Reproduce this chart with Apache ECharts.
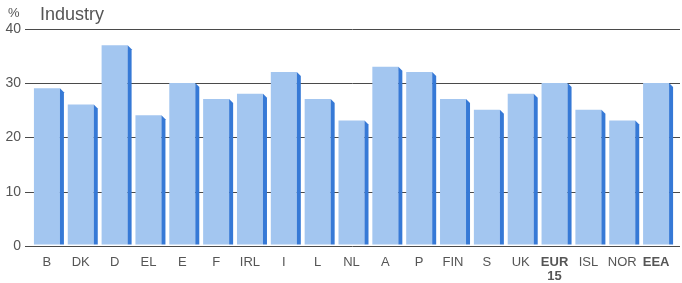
<!DOCTYPE html>
<html>
<head>
    <meta charset="utf-8">
    <title>Industry</title>
    <script src="https://cdn.jsdelivr.net/npm/echarts@6/dist/echarts.min.js"></script>
</head>
<body style="margin:0;background:#fff;">
<div id="main" style="width: 682px;height:283px;"></div>
<script type="text/javascript">
    // data
    var countries = ['B', 'DK', 'D', 'EL', 'E', 'F', 'IRL', 'I', 'L', 'NL', 'A', 'P', 'FIN', 'S', 'UK', 'EUR15', 'ISL', 'NOR', 'EEA'];
    var industry = [29, 26, 37, 24, 30, 27, 28, 32, 27, 23, 33, 32, 27, 25, 28, 30, 25, 23, 30];
    var yTicks = [0, 10, 20, 30, 40];
    var boldOnes = ['EUR15', 'EEA'];

    var myChart = echarts.init(document.getElementById('main'));

    // bar face + dark side strip, like the printed 3d bars
    function renderBar(params, api) {
        var top = api.coord([api.value(0), api.value(1)]);
        var base = api.coord([api.value(0), 0]);
        var faceW = 26, sideW = 4, slant = 4;
        var x0 = top[0] - 13;
        var x1 = x0 + faceW;
        return {
            type: 'group',
            children: [
                {
                    type: 'rect',
                    shape: { x: x0, y: top[1], width: faceW, height: base[1] - top[1] },
                    style: { fill: '#a3c6f0' }
                },
                {
                    type: 'polygon',
                    shape: { points: [[x1, top[1]], [x1 + sideW, top[1] + slant], [x1 + sideW, base[1]], [x1, base[1]]] },
                    style: { fill: '#3679d6' }
                }
            ]
        };
    }

    var option = {
        animation: false,
        textStyle: { fontFamily: 'Liberation Sans, Arial, sans-serif' },
        graphic: [
            { type: 'text', left: 8, top: 7, style: { text: '%', fontSize: 13, fill: '#555', fontFamily: 'Liberation Sans' } },
            { type: 'text', left: 40, top: 6, style: { text: 'Industry', fontSize: 18, fill: '#555', fontFamily: 'Liberation Sans' } }
        ],
        grid: [
            { left: 25, right: 2, top: 29, bottom: 37 },
            { left: 30, right: 9, top: 29, bottom: 37 }
        ],
        xAxis: [
            { gridIndex: 0, type: 'value', show: false, min: 0, max: 1 },
            {
                gridIndex: 1,
                type: 'category',
                data: countries,
                axisLine: { show: false },
                axisTick: { show: false },
                axisLabel: {
                    margin: 11,
                    color: '#555',
                    fontSize: 13,
                    interval: 0,
                    formatter: function (v) {
                        if (v == 'EUR15') return '{b|EUR}\n{b|15}';
                        if (boldOnes.indexOf(v) >= 0) return '{b|' + v + '}';
                        return v;
                    },
                    rich: {
                        b: { fontWeight: 'bold', fontSize: 13, color: '#555', lineHeight: 14 }
                    }
                }
            }
        ],
        yAxis: [
            {
                gridIndex: 0,
                type: 'value',
                min: yTicks[0],
                max: yTicks[yTicks.length - 1],
                interval: 10,
                axisLine: { show: false },
                axisTick: { show: false },
                axisLabel: { color: '#555', fontSize: 14, margin: 4 },
                splitLine: { lineStyle: { color: '#4a4a4a', width: 1 } }
            },
            {
                gridIndex: 1,
                type: 'value',
                min: 0,
                max: 40,
                interval: 10,
                show: false
            }
        ],
        series: [
            {
                type: 'custom',
                xAxisIndex: 1,
                yAxisIndex: 1,
                renderItem: renderBar,
                data: industry.map(function (v, i) { return [i, v]; })
            }
        ]
    };
    myChart.setOption(option);
</script>
</body>
</html>
